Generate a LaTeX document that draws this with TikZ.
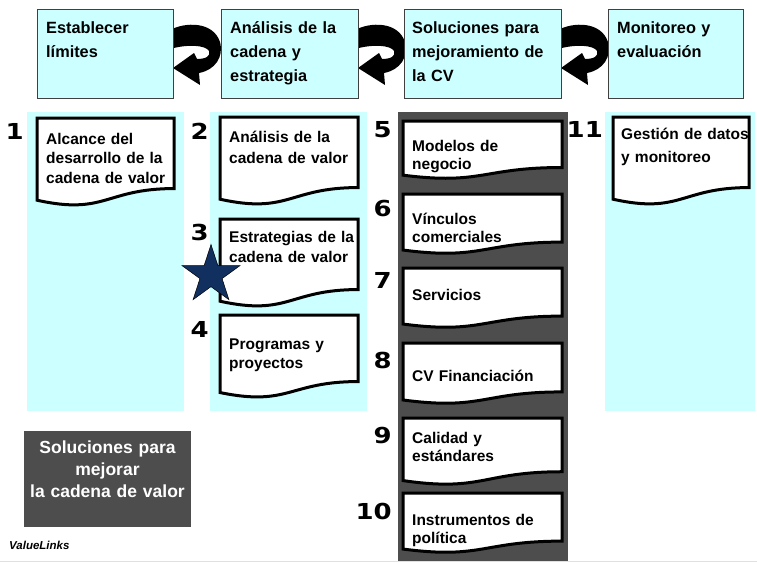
\documentclass[tikz,border=0pt]{standalone}
\usepackage{fontspec}
\setmainfont{Liberation Sans}
\newfontfamily\numfont[FakeStretch=1.18]{DejaVu Sans}
\usetikzlibrary{shapes.geometric}

\definecolor{cvcyan}{RGB}{204,255,255}
\definecolor{cvgray}{RGB}{77,77,77}
\definecolor{cvnavy}{RGB}{17,48,96}

\tikzset{
  colbox/.style={fill=cvcyan},
  stagebox/.style={fill=cvcyan,draw=black!75,line width=0.8pt},
  docbox/.style={fill=white,draw=black,line width=3pt,line join=miter},
  stagetext/.style={font=\bfseries\fontsize{16.3}{24}\selectfont,anchor=base west,inner sep=0pt,text width=150pt,align=left},
  doctext/.style={font=\bfseries\fontsize{15.5}{19.5}\selectfont,anchor=base west,inner sep=0pt,text width=140pt,align=left},
  doctextc/.style={doctext,font=\bfseries\fontsize{15.5}{18}\selectfont},
  numtext/.style={font=\numfont\bfseries\fontsize{22}{22}\selectfont,anchor=base east,inner sep=0pt},
}

% document shape: left, right, top, height
\newcommand{\docshape}[4]{%
  \draw[docbox] (#1,#3) -- (#2,#3) -- (#2,{#3+0.802*#4})
    .. controls ({(#1+#2)/2},{#3+0.802*#4}) and ({(#1+#2)/2},{#3+1.107*#4}) .. (#1,{#3+0.934*#4}) -- cycle;}

\begin{document}
\begin{tikzpicture}[x=1pt,y=-1pt]
\useasboundingbox (0,0) rectangle (757,562);

% columns
\fill[colbox] (27,112) rectangle (184,411);
\fill[colbox] (210,112) rectangle (367,411);
\fill[cvgray] (398,112) rectangle (568,561);
\fill[colbox] (605,112) rectangle (755,411);

% circular arrows between the stages
\foreach \gx in {173,358,561}
  \fill[shift={(\gx,0)}] (-3,30) .. controls (12,22) and (40,21) .. (47,42)
    .. controls (51,57) and (42,70) .. (26,73) -- (27,85) -- (0,68) -- (21,53) -- (24,59)
    .. controls (33,59) and (38,56) .. (36,51)
    .. controls (33,45) and (14,44) .. (-3,49) -- cycle;

% stages
\draw[stagebox] (37,9) rectangle (173,98);
\draw[stagebox] (221,9) rectangle (358,98);
\draw[stagebox] (404,9) rectangle (561,98);
\draw[stagebox] (608,9) rectangle (743,98);
\node[stagetext] (s1) at (46,33) {Establecer\\límites};
\node[stagetext] (s2) at (230,33) {Análisis de la\\cadena y\\estrategia};
\node[stagetext] (s3) at (412,33) {Soluciones para\\mejoramiento de\\la CV};
\node[stagetext] (s4) at (617,33) {Monitoreo y\\evaluación};

% documents
\foreach \a/\b/\t/\h in {37/174/118/88, 220/358/117/88, 220/358/219/88, 220/358/315/83,
    403/562/121/58, 403/562/194/60, 403/562/268/60, 403/562/343/61, 403/562/418/67,
    403/562/493/60, 613/749/117/88}
  \docshape{\a}{\b}{\t}{\h};

\node[doctext] (t1) at (46,144) {Alcance del\\desarrollo de la\\cadena de valor};
\node[doctext] (t2) at (229,142) {Análisis de la\\[2pt]cadena de valor};
\node[doctext] (t3) at (229,242) {Estrategias de la\\[1pt]cadena de valor};
\node[doctext] (t4) at (229,349) {Programas y\\proyectos};
\node[doctextc] (t5) at (412,151) {Modelos de\\negocio};
\node[doctextc] (t6) at (412,224) {Vínculos\\comerciales};
\node[doctextc] (t7) at (412,300) {Servicios};
\node[doctextc] (t8) at (412,381) {CV Financiación};
\node[doctextc] (t9) at (412,443) {Calidad y\\estándares};
\node[doctextc] (t10) at (412,525) {Instrumentos de\\política};
\node[doctext] (t11) at (621,139) {Gestión de datos\\[4pt]y monitoreo};

% step numbers
\node[numtext] (n1) at (24,139) {1};
\node[numtext] (n2) at (209,139) {2};
\node[numtext] (n3) at (209,240) {3};
\node[numtext] (n4) at (209,337) {4};
\node[numtext] (n5) at (392,137) {5};
\node[numtext] (n6) at (392,216) {6};
\node[numtext] (n7) at (392,288) {7};
\node[numtext] (n8) at (392,368) {8};
\node[numtext] (n9) at (392,443) {9};
\node[numtext] (n10) at (392,519) {10};
\node[numtext] (n11) at (603,137) {11};

\node[star,star points=5,star point ratio=2.618,minimum size=61pt,inner sep=0pt,
  fill=cvnavy,draw=black,line width=0.5pt] (star) at (211,275) {};

% legend box
\fill[cvgray] (24,431) rectangle (191,527);
\node[font=\bfseries\fontsize{17.5}{22}\selectfont,text=white,text width=165pt,align=center,
  anchor=base,inner sep=0pt] (sol) at (107.5,453) {Soluciones para\\mejorar\\la cadena de valor};

\node[font=\bfseries\itshape\fontsize{11.5}{12}\selectfont,anchor=base west,inner sep=0pt] (vl) at (9,549) {ValueLinks};
\draw[black!12,line width=1pt] (0,561) -- (757,561);
\end{tikzpicture}
\end{document}
